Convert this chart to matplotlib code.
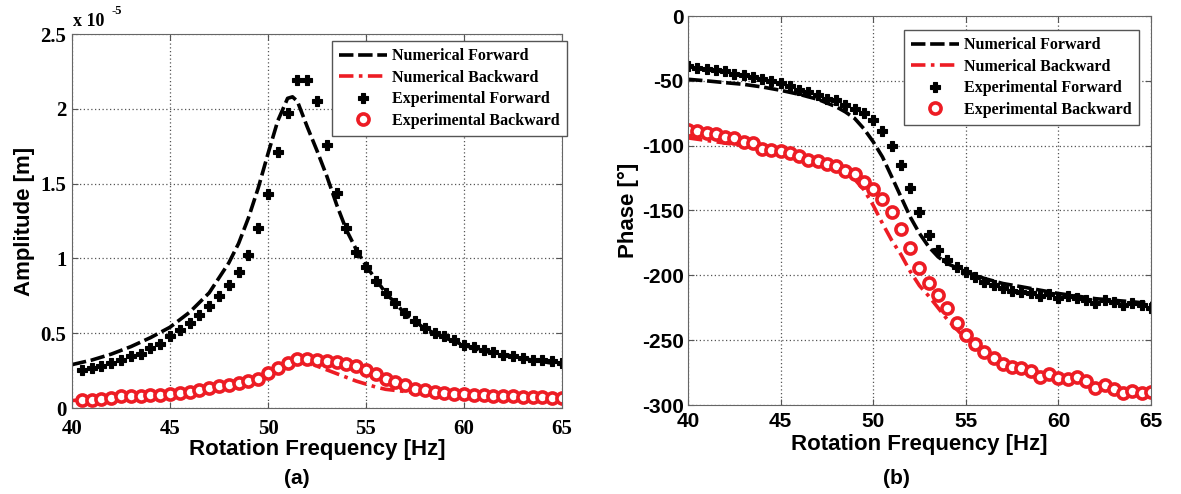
import matplotlib
matplotlib.use('Agg')
import matplotlib.pyplot as plt
import numpy as np

plt.rcParams['axes.unicode_minus'] = False

RED = '#ed1c24'

# ---- (a) amplitude, units of 1e-5 m ----
f_exp_a = np.arange(40.5, 65.01, 0.5)
amp_exp_fwd = [0.252, 0.267, 0.283, 0.30, 0.323, 0.345, 0.363, 0.40, 0.43, 0.48,
               0.52, 0.57, 0.62, 0.68, 0.75, 0.82, 0.91, 1.02, 1.20, 1.43,
               1.71, 1.97, 2.19, 2.19, 2.05, 1.76, 1.44, 1.20, 1.045, 0.94,
               0.85, 0.77, 0.70, 0.635, 0.58, 0.535, 0.50, 0.48, 0.452, 0.423,
               0.408, 0.39, 0.372, 0.357, 0.345, 0.334, 0.323, 0.319, 0.312, 0.30]
amp_exp_bwd = [0.056, 0.056, 0.06, 0.07, 0.078, 0.078, 0.082, 0.085, 0.089, 0.094,
               0.10, 0.107, 0.118, 0.134, 0.145, 0.156, 0.167, 0.178, 0.196, 0.234,
               0.267, 0.30, 0.327, 0.327, 0.319, 0.312, 0.305, 0.294, 0.278, 0.256,
               0.23, 0.196, 0.172, 0.152, 0.129, 0.118, 0.105, 0.10, 0.096, 0.094,
               0.089, 0.087, 0.082, 0.078, 0.078, 0.074, 0.071, 0.071, 0.069, 0.067]

f_num_fwd_a = [40, 41, 42, 43, 44, 45, 46, 47, 48, 48.5, 49, 49.5, 50, 50.5, 51,
               51.25, 51.5, 52, 52.5, 53, 53.5, 54, 54.5, 55, 55.5, 56, 57, 58,
               59, 60, 61, 62, 63, 64, 65]
amp_num_fwd = [0.29, 0.32, 0.36, 0.41, 0.47, 0.54, 0.64, 0.77, 0.97, 1.10, 1.27,
               1.47, 1.70, 1.92, 2.07, 2.08, 2.05, 1.88, 1.72, 1.55, 1.36, 1.19,
               1.06, 0.95, 0.86, 0.77, 0.63, 0.53, 0.47, 0.42, 0.38, 0.36, 0.33,
               0.31, 0.29]
f_num_bwd_a = [40, 42, 44, 46, 47, 48, 49, 50, 50.5, 51, 51.5, 52, 52.5, 53, 53.5,
               54, 54.5, 55, 55.5, 56, 57, 58, 60, 62, 65]
amp_num_bwd = [0.05, 0.065, 0.08, 0.105, 0.125, 0.15, 0.185, 0.23, 0.26, 0.29,
               0.31, 0.30, 0.28, 0.255, 0.23, 0.205, 0.18, 0.16, 0.14, 0.125,
               0.11, 0.10, 0.085, 0.075, 0.065]

# ---- (b) phase, degrees ----
f_exp_b = np.arange(40, 65.01, 0.5)
ph_exp_fwd = [-38.5, -39.8, -40.6, -41.9, -42.6, -44.4, -45.7, -47, -48.8, -50,
              -52, -54, -56.8, -58.6, -61, -63.7, -65, -68.8, -71.4, -75,
              -80.4, -88.6, -100, -114.6, -132.5, -150.8, -169, -180.6, -188.3, -193.4,
              -197.3, -201, -205, -207.5, -210, -212, -212.7, -214, -215.8, -214.5,
              -217.8, -216, -217.3, -219, -221, -219, -220.4, -223, -221.7, -223, -225.5]
ph_exp_bwd = [-87.6, -88.6, -90.2, -91.2, -93.2, -93.8, -97, -97.9, -102.2, -103,
              -104, -106, -108, -110.7, -111.7, -113.8, -115.8, -119.4, -122, -128,
              -133.8, -141.5, -151.5, -164.4, -179.3, -194.7, -205.8, -215.3, -225.5, -236.6,
              -246, -253, -259, -264, -268.4, -270.5, -271.8, -273.6, -278.2, -276,
              -279.4, -280.2, -278.2, -281.3, -287.2, -284.6, -288, -291, -289, -291, -289.7]

f_num_fwd_b = [40, 41, 42, 43, 44, 45, 46, 47, 48, 48.5, 49, 49.5, 50, 50.5, 51,
               51.5, 52, 52.5, 53, 53.5, 54, 55, 56, 57, 58, 60, 62, 65]
ph_num_fwd = [-48.8, -50, -51.4, -52.7, -54.7, -57.3, -60.4, -64.2, -70, -74, -79,
              -87, -97, -108.7, -124, -139.5, -155, -167.7, -178, -185.7, -190.9,
              -197.3, -202.4, -206.3, -208.8, -214, -218, -221.7]
f_num_bwd_b = [40, 41, 42, 43, 44, 45, 46, 47, 48, 48.5, 49, 49.5, 50, 50.5, 51,
               51.5, 52, 52.5, 53, 53.5, 54, 55, 56, 57, 58, 60, 62, 65]
ph_num_bwd = [-94, -96, -98, -100, -102, -105, -108, -112, -117, -121, -126, -134,
              -146, -160, -173, -184, -197, -208, -216, -225, -234, -249, -260,
              -268, -273, -279, -284, -290]

labels = ['Numerical Forward', 'Numerical Backward',
          'Experimental Forward', 'Experimental Backward']

W, H = 1181, 494
fig = plt.figure(figsize=(W / 100, H / 100), dpi=100)


def px_axes(x0, x1, y0, y1):
    return fig.add_axes([x0 / W, 1 - y1 / H, (x1 - x0) / W, (y1 - y0) / H])


def draw(ax, f_nf, y_nf, f_nb, y_nb, f_e, y_ef, y_eb):
    ax.plot(f_nf, y_nf, color='black', lw=2.6, dashes=(4, 1.3), label=labels[0])
    ax.plot(f_nb, y_nb, color=RED, lw=2.6, dashes=(4, 1.5, 1, 1.5), label=labels[1])
    ax.plot(f_e, y_ef, 'P', color='black', ms=7.5, mew=0.8, label=labels[2])
    ax.plot(f_e, y_eb, 'o', color=RED, mfc='white', ms=8, mew=2.6, label=labels[3])
    ax.set_xlim(40, 65)
    ax.set_xticks([40, 45, 50, 55, 60, 65])
    ax.grid(True, ls=(0, (1, 2)), color='#555555', lw=0.9)
    ax.tick_params(direction='in', top=True, right=True, length=4,
                   color='#555555', pad=5)
    for s in ax.spines.values():
        s.set_color('#666666')


leg_font = {'family': 'Liberation Serif', 'weight': 'bold', 'size': 11.5}
leg_opts = dict(loc='upper left', bbox_transform=fig.transFigure, prop=leg_font,
                fancybox=False, edgecolor='#555555', framealpha=1,
                handlelength=3.0, handletextpad=0.3, labelspacing=0.35,
                borderpad=0.45, borderaxespad=0, numpoints=1)

# (a)
ax1 = px_axes(72, 562, 34, 408)
draw(ax1, f_num_fwd_a, amp_num_fwd, f_num_bwd_a, amp_num_bwd,
     f_exp_a, amp_exp_fwd, amp_exp_bwd)
ax1.set_ylim(0, 2.5)
ax1.set_yticks([0, 0.5, 1, 1.5, 2, 2.5])
ax1.set_yticklabels(['0', '0.5', '1', '1.5', '2', '2.5'])
for t in ax1.get_xticklabels() + ax1.get_yticklabels():
    t.set_family('Liberation Serif')
    t.set_fontweight('bold')
    t.set_fontsize(15)
ax1.tick_params(axis='y', pad=4)
ax1.tick_params(axis='x', pad=8)
ax1.set_xlabel('Rotation Frequency [Hz]', fontsize=16, fontweight='bold',
               family='Liberation Sans', labelpad=0)
ax1.set_ylabel('Amplitude [m]', fontsize=16, fontweight='bold',
               family='Liberation Sans', labelpad=4)
fig.text(73 / W, 1 - 21 / H, 'x 10', fontsize=13, fontweight='bold',
         family='Liberation Serif', va='center', ha='left')
fig.text(111 / W, 1 - 11 / H, '-5', fontsize=9, fontweight='bold',
         family='Liberation Serif', va='center', ha='left')
ax1.legend(bbox_to_anchor=(332 / W, 1 - 41 / H), **leg_opts)

# (b)
ax2 = px_axes(688, 1151, 16, 405)
draw(ax2, f_num_fwd_b, ph_num_fwd, f_num_bwd_b, ph_num_bwd,
     f_exp_b, ph_exp_fwd, ph_exp_bwd)
ax2.set_ylim(-300, 0)
ax2.set_yticks(np.arange(-300, 1, 50))
for t in ax2.get_xticklabels() + ax2.get_yticklabels():
    t.set_family('Liberation Sans')
    t.set_fontweight('bold')
    t.set_fontsize(15)
ax2.tick_params(axis='y', pad=3)
ax2.tick_params(axis='x', pad=5)
ax2.set_xlabel('Rotation Frequency [Hz]', fontsize=16, fontweight='bold',
               family='Liberation Sans', labelpad=2)
ax2.set_ylabel('Phase [°]', fontsize=16, fontweight='bold',
               family='Liberation Sans', labelpad=2)
ax2.legend(bbox_to_anchor=(904 / W, 1 - 30 / H), **leg_opts)

fig.text(297 / W, 1 - 478 / H, '(a)', fontsize=15, fontweight='bold',
         family='Liberation Sans', ha='center', va='center')
fig.text(896 / W, 1 - 478 / H, '(b)', fontsize=15, fontweight='bold',
         family='Liberation Sans', ha='center', va='center')

fig.savefig('out.png', dpi=100)
